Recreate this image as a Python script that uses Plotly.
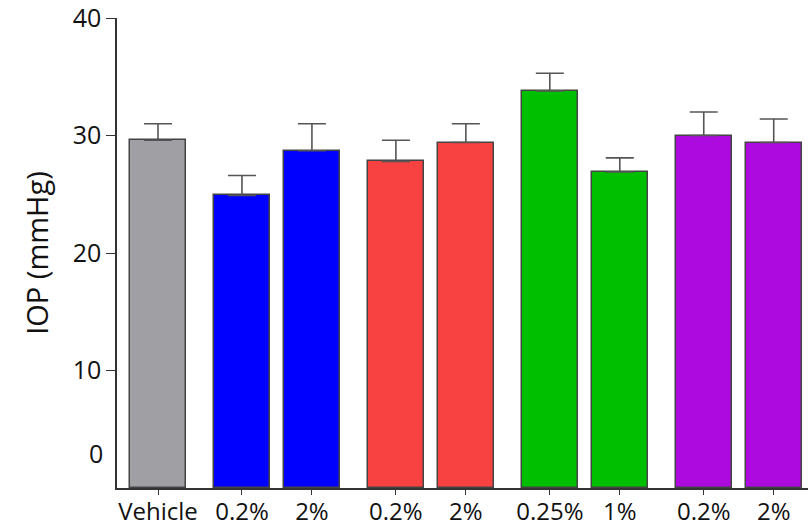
import plotly.graph_objects as go

# Treatment groups (bars within a group sit closer together)
groups = [["Vehicle"], ["0.2%", "2%"], ["0.2%", "2%"], ["0.25%", "1%"], ["0.2%", "2%"]]
group_colors = ["#A09FA4", "#0000FF", "#F84141", "#00BE00", "#AC0ADF"]
iop_mean = [29.6, 24.9, 28.7, 27.8, 29.4, 33.8, 26.9, 30.0, 29.4]
iop_sem = [1.4, 1.7, 2.3, 1.8, 1.6, 1.5, 1.2, 2.0, 2.0]
y_ticks = [10, 20, 30, 40]

# Lay bars out on a numeric axis with a wider gap between groups
group_gap = 0.2
labels, positions, colors = [], [], []
pos = 0.0
for gi, grp in enumerate(groups):
    for lab in grp:
        labels.append(lab)
        positions.append(pos)
        colors.append(group_colors[gi])
        pos += 1.0
    pos += group_gap

font_family = "Open Sans, Noto Sans, sans-serif"

fig = go.Figure(
    go.Bar(
        x=positions,
        y=iop_mean,
        width=0.8,
        marker=dict(color=colors, line=dict(color="#444444", width=1.5)),
        error_y=dict(
            type="data",
            array=iop_sem,
            arrayminus=[0] * len(iop_sem),
            symmetric=False,
            color="#555555",
            thickness=1.6,
            width=14,
        ),
    )
)

fig.update_layout(
    width=809,
    height=529,
    margin=dict(l=117, r=1, t=18, b=41),
    plot_bgcolor="white",
    paper_bgcolor="white",
    showlegend=False,
    font=dict(family=font_family, size=24, color="#111111"),
    bargap=0,
)

fig.update_xaxes(
    range=[-0.586, 9.29],
    automargin=False,
    tickmode="array",
    tickvals=positions,
    ticktext=labels,
    ticks="outside",
    ticklen=5,
    tickwidth=1.3,
    tickcolor="#333333",
    ticklabeloverflow="allow",
    ticklabelstandoff=-4,
    showline=True,
    linecolor="#333333",
    linewidth=1.5,
    showgrid=False,
    zeroline=False,
    tickfont=dict(size=24),
)

fig.update_yaxes(
    range=[0, 40],
    automargin=False,
    tickmode="array",
    tickvals=y_ticks,
    ticks="outside",
    ticklen=9,
    tickwidth=1.3,
    tickcolor="#333333",
    ticklabeloverflow="allow",
    showline=True,
    linecolor="#333333",
    linewidth=1.5,
    showgrid=False,
    zeroline=False,
    tickfont=dict(size=25),
    title=dict(text="IOP (mmHg)", font=dict(size=29), standoff=16),
)

# Zero label sits slightly above the baseline
fig.add_annotation(
    x=0, xref="paper", xshift=-12, xanchor="right",
    y=3.0, yref="y", yanchor="middle",
    text="0", showarrow=False, font=dict(size=25),
)

fig.write_html("out.html")
